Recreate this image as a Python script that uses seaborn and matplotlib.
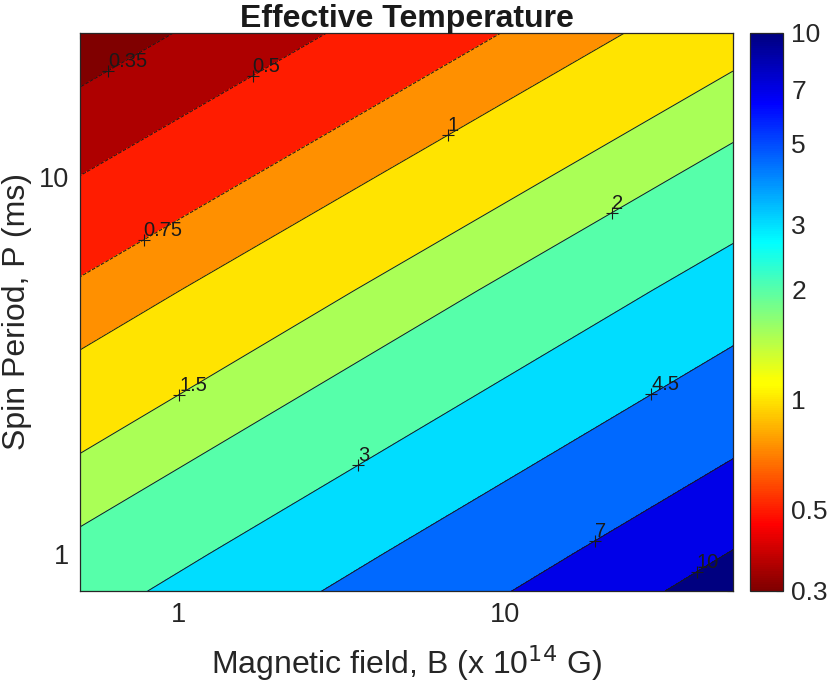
import numpy as np
import matplotlib
matplotlib.use("Agg")
import matplotlib.pyplot as plt
import matplotlib.transforms as mtransforms
from matplotlib.colors import LogNorm, LinearSegmentedColormap
from matplotlib.cm import ScalarMappable
from matplotlib.scale import InvertedLogTransform
from matplotlib.ticker import LogLocator, NullFormatter
import seaborn as sns

# effective temperature at a few (B, P) nodes
B_nodes = [0.5, 1, 5, 10, 50]      # x 1e14 G
P_nodes = [0.8, 1, 5, 10, 24]      # ms
T_table = [
    [2.563, 3.221, 5.481, 6.887, 11.71],    # P = 0.8
    [2.227, 2.799, 4.761, 5.984, 10.18],    # P = 1
    [0.7918, 0.9954, 1.693, 2.128, 3.620],  # P = 5
    [0.5019, 0.6310, 1.073, 1.349, 2.294],  # P = 10
    [0.2816, 0.3540, 0.6020, 0.7568, 1.287],  # P = 24
]

levels = [0.35, 0.5, 0.75, 1, 1.5, 2, 3, 4.5, 7, 10]
level_text = ["0.35", "0.5", "0.75", "1", "1.5", "2", "3", "4.5", "7", "10"]
# where each contour label sits (approx.)
label_B = [0.615, 1.70, 0.793, 6.70, 1.0, 21.5, 3.53, 28.2, 18.7, 38.1]
label_P = [18.8, 18.3, 6.68, 12.8, 2.67, 7.93, 1.73, 2.64, 1.10, 0.918]

cbar_ticks = [0.3, 0.5, 1, 2, 3, 5, 7, 10]
cbar_text = ["0.3", "0.5", "1", "2", "3", "5", "7", "10"]

sns.set_theme(style="white")
plt.rcParams["font.family"] = ["Liberation Sans", "DejaVu Sans"]
dark = "#262626"

# MATLAB-style jet, reversed (red = cool end of the scale here)
jet_ml = LinearSegmentedColormap("jet_ml", {
    "red": [(0, 0, 0), (0.375, 0, 0), (0.625, 1, 1), (0.882, 1, 1), (1, 0.5, 0.5)],
    "green": [(0, 0, 0), (0.125, 0, 0), (0.375, 1, 1), (0.632, 1, 1),
              (0.882, 0, 0), (1, 0, 0)],
    "blue": [(0, 0.5, 0.5), (0.125, 1, 1), (0.375, 1, 1), (0.625, 0, 0), (1, 0, 0)],
}, N=256)
cmap = jet_ml.reversed()
norm = LogNorm(vmin=0.3, vmax=10)


def snap_to_line(verts, pt):
    # nearest point on a polyline (display coords)
    a, b = verts[:-1], verts[1:]
    ab = b - a
    t = ((pt - a) * ab).sum(1) / np.maximum((ab ** 2).sum(1), 1e-12)
    t = np.clip(t, 0, 1)
    proj = a + t[:, None] * ab
    return proj[((proj - pt) ** 2).sum(1).argmin()]


fig = plt.figure(figsize=(8.3, 6.86), dpi=100)
ax = fig.add_axes([80 / 830, 95 / 686, 653 / 830, 558 / 686])
cax = fig.add_axes([750 / 830, 95 / 686, 33 / 830, 558 / 686])

ax.set_xscale("log")
ax.set_yscale("log")
ax.set_xlim(0.5, 50)
ax.set_ylim(0.8, 24)

# contour in log10 space, mapped back onto the log axes
log_to_data = mtransforms.blended_transform_factory(
    InvertedLogTransform(10), InvertedLogTransform(10))
tr = log_to_data + ax.transData

lx = np.log10(B_nodes)
ly = np.log10(P_nodes)
lz = np.log10(np.array(T_table))
llev = np.log10(levels)

fill_levels = np.concatenate([[lz.min() - 1], llev, [lz.max() + 1]])
fill_colors = [cmap(norm(v)) for v in [0.3] + levels]
ax.contourf(lx, ly, lz, levels=fill_levels, colors=fill_colors, transform=tr)
lines = ax.contour(lx, ly, lz, levels=llev, colors="k", linewidths=0.7,
                   transform=tr)

# MATLAB-like labels: '+' on the line, value up and to the right
for path, txt, b, p in zip(lines.get_paths(), level_text, label_B, label_P):
    pt = ax.transData.transform((b, p))
    best = None
    for poly in path.to_polygons(closed_only=False):
        if len(poly) < 2:
            continue
        q = snap_to_line(tr.transform(poly), pt)
        if best is None or ((q - pt) ** 2).sum() < ((best - pt) ** 2).sum():
            best = q
    xb, yp = ax.transData.inverted().transform(best)
    ax.plot([xb], [yp], marker="+", color="k", ms=9, mew=0.8, ls="none")
    ax.annotate(txt, (xb, yp), xytext=(0, 0), textcoords="offset points",
                ha="left", va="bottom", fontsize=14.5, color="k")

ax.set_xticks([1, 10], labels=["1", "10"])
ax.set_yticks([1, 10], labels=["1", "10"])
for axis in (ax.xaxis, ax.yaxis):
    axis.set_minor_locator(LogLocator(base=10, subs=range(2, 10)))
    axis.set_minor_formatter(NullFormatter())
ax.tick_params(which="both", direction="in", top=True, right=True,
               color=dark, labelcolor=dark, labelsize=19.5, width=0.8)
ax.tick_params(which="major", length=7, pad=8)
ax.tick_params(which="minor", length=4)
for s in ax.spines.values():
    s.set_color(dark)
    s.set_linewidth(0.9)

ax.set_xlabel(r"Magnetic field, B (x 10$^{14}$ G)", fontsize=23,
              color=dark, labelpad=11)
ax.set_ylabel("Spin Period, P (ms)", fontsize=23, color=dark, labelpad=5)
ax.set_title("Effective Temperature", fontsize=23, fontweight="bold",
             color="k", pad=4)

sm = ScalarMappable(norm=norm, cmap=cmap)
cb = fig.colorbar(sm, cax=cax)
cb.set_ticks(cbar_ticks, labels=cbar_text)
cax.yaxis.set_minor_locator(LogLocator(base=10, subs=range(2, 10)))
cax.yaxis.set_minor_formatter(NullFormatter())
cax.tick_params(which="both", direction="in", color=dark, labelcolor=dark,
                labelsize=19, width=0.8)
cax.tick_params(which="major", length=5, pad=6)
cax.tick_params(which="minor", length=3)
cb.outline.set_edgecolor(dark)
cb.outline.set_linewidth(0.9)

fig.savefig("out.png", dpi=100)
